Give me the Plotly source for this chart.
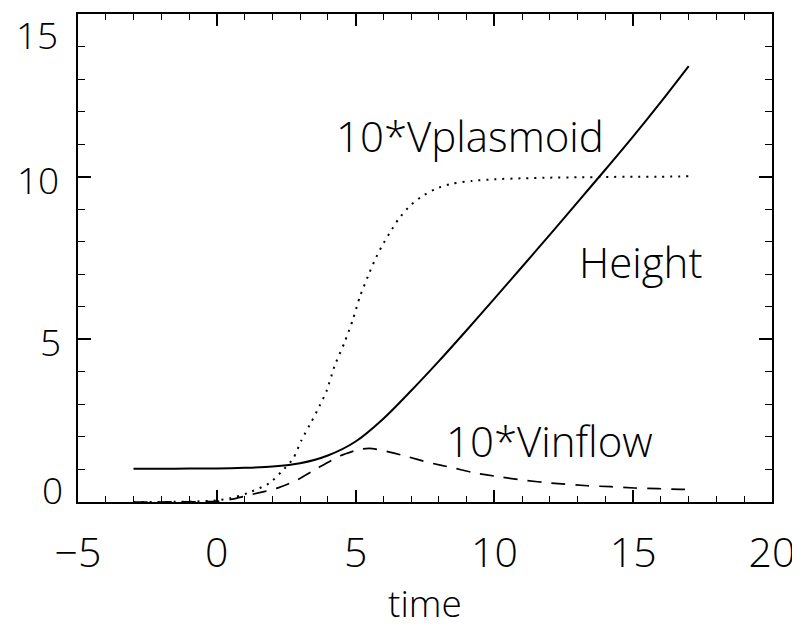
import plotly.graph_objects as go

# ---- data ----
height_t = [-3, -2, -1, 0, 1, 2, 3, 4, 5, 6, 7, 8, 9, 10, 11, 12, 13, 14, 15, 16, 17]
height_v = [1.02, 1.02, 1.03, 1.03, 1.05, 1.09, 1.19, 1.43, 1.86, 2.56, 3.42, 4.33,
            5.28, 6.25, 7.23, 8.22, 9.22, 10.22, 11.24, 12.3, 13.4]

vplas_t = [-3, -1, 0, 0.5, 1.1, 1.9, 2.35, 2.75, 3.05, 3.4, 3.7, 3.95, 4.25, 4.6, 4.9,
           5.15, 5.45, 5.7, 5.95, 6.25, 6.55, 6.95, 7.4, 7.9, 8.45, 9.2, 10, 11, 12,
           13, 14, 15, 16, 17]
vplas_v = [0, 0.01, 0.05, 0.12, 0.27, 0.58, 0.95, 1.33, 1.9, 2.45, 2.95, 3.4, 4.2, 4.9,
           5.6, 6.3, 6.95, 7.45, 7.87, 8.3, 8.7, 9.1, 9.4, 9.63, 9.78, 9.87, 9.92,
           9.95, 9.97, 9.98, 9.99, 10.0, 10.0, 10.01]

vinf_t = [-3, 0, 0.5, 1.25, 2.15, 2.9, 3.65, 4.45, 5.15, 5.5, 5.9, 6.85, 7.6, 8.5,
          9.25, 10.2, 11.05, 12.05, 13.35, 14.2, 15.05, 15.9, 16.7, 17]
vinf_v = [0, 0.02, 0.08, 0.23, 0.42, 0.68, 1.05, 1.42, 1.62, 1.65, 1.6, 1.4, 1.22,
          1.05, 0.9, 0.77, 0.67, 0.58, 0.5, 0.47, 0.43, 0.41, 0.39, 0.39]

x_ticks = [-5, 0, 5, 10, 15, 20]
x_tick_text = ["\u22125", "0", "5", "10", "15", "20"]
y_ticks = [0, 5, 10, 15]
y_tick_text = ["0", "5", "10", "15"]

labels = ["10*Vplasmoid", "Height", "10*Vinflow"]
label_x = [9.12, 15.28, 11.97]
label_y = [11.28, 7.38, 1.9]

FONT = "Open Sans"

fig = go.Figure()
fig.add_trace(go.Scatter(x=height_t, y=height_v, mode="lines",
                         line=dict(color="black", width=2, shape="spline", smoothing=0.8),
                         showlegend=False))
fig.add_trace(go.Scatter(x=vplas_t, y=vplas_v, mode="lines",
                         line=dict(color="black", width=2, dash="2px,6px",
                                   shape="spline", smoothing=0.6),
                         showlegend=False))
fig.add_trace(go.Scatter(x=vinf_t, y=vinf_v, mode="lines",
                         line=dict(color="black", width=1.7, dash="14px,10px",
                                   shape="spline", smoothing=0.6),
                         showlegend=False))

for txt, lx, ly in zip(labels, label_x, label_y):
    fig.add_annotation(x=lx, y=ly, text=txt, showarrow=False, xanchor="center",
                       yanchor="middle",
                       font=dict(family=FONT, size=42, color="black", weight=300))

# y tick labels (end labels pulled inward as in the reference)
y_shift = {0: 13, 5: -2, 10: -3, 15: -20}
y_xshift = {0: -14, 5: -16, 10: -18, 15: -19}
for v, t in zip(y_ticks, y_tick_text):
    fig.add_annotation(x=0, xref="paper", y=v, yref="y", text=t, showarrow=False,
                       xanchor="right", yanchor="middle", xshift=y_xshift[v],
                       yshift=y_shift[v], borderpad=0,
                       font=dict(family=FONT, size=37, color="black", weight=300))

fig.add_annotation(x=0.5, xref="paper", y=0, yref="paper", yshift=-100, text="time",
                   showarrow=False, xanchor="center", yanchor="middle",
                   font=dict(family=FONT, size=37, color="black", weight=300))

fig.update_xaxes(range=[-5, 20], tickvals=x_ticks, ticktext=x_tick_text,
                 ticks="inside", ticklen=12, tickwidth=1.5, tickcolor="black",
                 minor=dict(dtick=1, ticks="inside", ticklen=6, tickwidth=1.2,
                            tickcolor="black"),
                 showline=True, linewidth=2, linecolor="black", mirror="ticks",
                 showgrid=False, zeroline=False, ticklabelstandoff=14, automargin=False,
                 tickfont=dict(family=FONT, size=41, color="black", weight=300))
fig.update_yaxes(range=[0, 15], tickvals=y_ticks, showticklabels=False,
                 ticks="inside", ticklen=13, tickwidth=1.5, tickcolor="black",
                 minor=dict(dtick=1, ticks="inside", ticklen=7, tickwidth=1.2,
                            tickcolor="black"),
                 showline=True, linewidth=2, linecolor="black", mirror="ticks",
                 showgrid=False, zeroline=False, automargin=False)

# the page adds an 8px body margin; size the figure so the plot box lands where the reference has it
fig.update_layout(width=792, height=620, margin=dict(l=70, r=28, t=6, b=126),
                  paper_bgcolor="white", plot_bgcolor="white", showlegend=False)

fig.write_html("out.html")
